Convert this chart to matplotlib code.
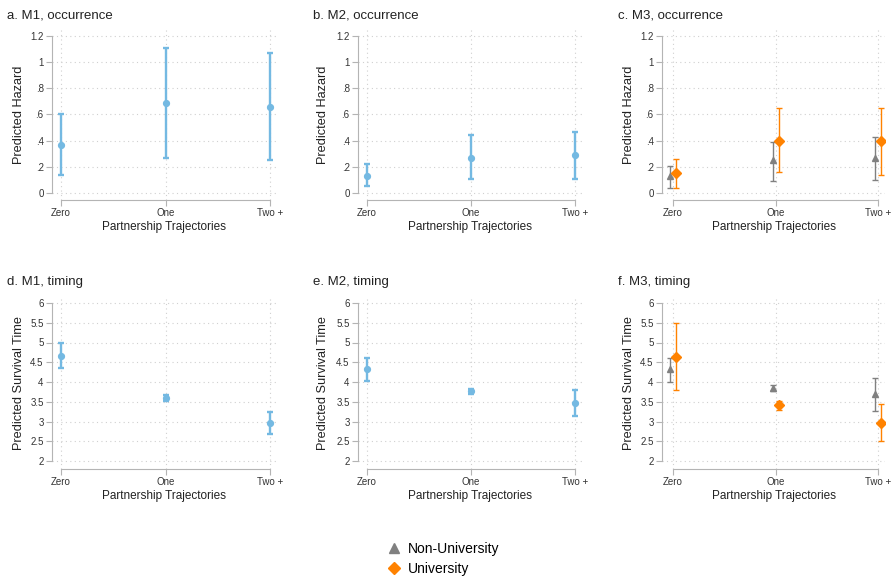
import matplotlib
matplotlib.use("Agg")
import matplotlib.pyplot as plt
from matplotlib.lines import Line2D

plt.rcParams['font.family'] = ['Liberation Sans', 'DejaVu Sans']

# categories
cats = ['Zero', 'One', 'Two +']

# occurrence (predicted hazard): point, lower, upper
m1_occ = [0.37, 0.69, 0.66]
m1_occ_lo = [0.14, 0.27, 0.25]
m1_occ_hi = [0.60, 1.11, 1.07]

m2_occ = [0.13, 0.27, 0.29]
m2_occ_lo = [0.05, 0.11, 0.11]
m2_occ_hi = [0.22, 0.44, 0.47]

m3_occ_nonuni = [0.13, 0.25, 0.27]
m3_occ_nonuni_lo = [0.04, 0.09, 0.10]
m3_occ_nonuni_hi = [0.21, 0.39, 0.43]

m3_occ_uni = [0.15, 0.40, 0.40]
m3_occ_uni_lo = [0.04, 0.16, 0.14]
m3_occ_uni_hi = [0.26, 0.65, 0.65]

# timing (predicted survival time)
m1_time = [4.67, 3.59, 2.96]
m1_time_lo = [4.35, 3.52, 2.68]
m1_time_hi = [5.00, 3.66, 3.24]

m2_time = [4.32, 3.76, 3.47]
m2_time_lo = [4.02, 3.69, 3.15]
m2_time_hi = [4.60, 3.83, 3.79]

m3_time_nonuni = [4.33, 3.85, 3.70]
m3_time_nonuni_lo = [3.99, 3.78, 3.26]
m3_time_nonuni_hi = [4.62, 3.93, 4.11]

m3_time_uni = [4.63, 3.41, 2.97]
m3_time_uni_lo = [3.81, 3.29, 2.50]
m3_time_uni_hi = [5.49, 3.53, 3.44]

occ_ticks = [0, 0.2, 0.4, 0.6, 0.8, 1.0, 1.2]
occ_ticklabels = ['0', '.2', '.4', '.6', '.8', '1', '1.2']
time_ticks = [2, 2.5, 3, 3.5, 4, 4.5, 5, 5.5, 6]
time_ticklabels = ['2', '2.5', '3', '3.5', '4', '4.5', '5', '5.5', '6']

BLUE = '#74B9E2'
GRAY = '#808080'
ORANGE = '#FF8200'
AXC = '#B4B4B4'
TXT = '#222222'

W, H = 892, 577
fig = plt.figure(figsize=(W / 100, H / 100), dpi=100)
fig.patch.set_facecolor('white')


def make_ax(left, right, top, bottom, xlim, ylim, ticks, ticklabels, ylab,
            title, title_x, title_base, ylab_right):
    # axes from pixel box
    ax = fig.add_axes([left / W, 1 - bottom / H, (right - left) / W, (bottom - top) / H])
    ax.set_xlim(xlim)
    ax.set_ylim(ylim)
    # dotted grid
    for t in ticks:
        ax.axhline(t, color='#D0D0D0', lw=0.8, ls=(0, (1, 3)), zorder=0)
    for i in range(len(cats)):
        ax.axvline(i, color='#D0D0D0', lw=0.8, ls=(0, (1, 3)), zorder=0)
    ax.spines['top'].set_visible(False)
    ax.spines['right'].set_visible(False)
    ax.spines['left'].set_color(AXC)
    ax.spines['bottom'].set_color(AXC)
    ax.spines['left'].set_bounds(ticks[0], ticks[-1])
    ax.spines['bottom'].set_bounds(0, len(cats) - 1)
    ax.set_yticks(ticks)
    ax.set_yticklabels(ticklabels)
    ax.set_xticks(range(len(cats)))
    ax.set_xticklabels(cats)
    ax.tick_params(axis='both', colors=AXC, labelcolor='#333333', labelsize=7,
                   length=4, width=0.8, pad=2)
    ax.set_ylabel(ylab, fontsize=9.2, color=TXT)
    ax.yaxis.set_label_coords((ylab_right - left) / (right - left), 0.5)
    ax.set_xlabel('Partnership Trajectories', fontsize=8.5, color=TXT)
    ax.xaxis.set_label_coords(0.5, -(221 - 200) / 170)
    fig.text(title_x / W, 1 - title_base / H, title, fontsize=9.5, color=TXT,
             va='baseline', ha='left')
    return ax


def blue_err(ax, vals, lo, hi):
    x = list(range(len(vals)))
    ax.errorbar(x, vals, yerr=[[v - l for v, l in zip(vals, lo)], [h - v for v, h in zip(vals, hi)]],
                fmt='o', color=BLUE, ms=4.2, elinewidth=1.7, capsize=2.2, capthick=1.7, zorder=3)


def group_err(ax, vals, lo, hi, shift, marker, color, ms):
    x = [i + shift for i in range(len(vals))]
    ax.errorbar(x, vals, yerr=[[v - l for v, l in zip(vals, lo)], [h - v for v, h in zip(vals, hi)]],
                fmt=marker, color=color, ms=ms, elinewidth=1.0, capsize=2.5, capthick=1.0, zorder=3)


cols = [(52, 277), (358, 582), (662, 885)]
title_xs = [7, 313, 618]
ylab_rights = [25, 329, 635]
occ_ylim = (-7 / 130.8, 1.2 + 6 / 130.8)
time_ylim = (2 - 8 / 39.5, 6 + 6 / 39.5)


def xlim_for(left, right):
    # Zero sits 9-11 px right of the axis line, Two + sits 7 px from right edge
    zero_px = left + (9 if left < 600 else 11)
    unit = (right - 7 - zero_px) / 2
    return (-(zero_px - left) / unit, 2 + 7 / unit)


occ_titles = ['a. M1, occurrence', 'b. M2, occurrence', 'c. M3, occurrence']
time_titles = ['d. M1, timing', 'e. M2, timing', 'f. M3, timing']

axes_top = []
axes_bot = []
for k in range(3):
    l, r = cols[k]
    axes_top.append(make_ax(l, r, 30, 200, xlim_for(l, r), occ_ylim, occ_ticks, occ_ticklabels,
                            'Predicted Hazard', occ_titles[k], title_xs[k], 18, ylab_rights[k]))
    ax2 = make_ax(l, r, 297, 469, xlim_for(l, r), time_ylim, time_ticks, time_ticklabels,
                  'Predicted Survival Time', time_titles[k], title_xs[k], 285, ylab_rights[k])
    ax2.xaxis.set_label_coords(0.5, -(221 - 200) / 172)
    axes_bot.append(ax2)

blue_err(axes_top[0], m1_occ, m1_occ_lo, m1_occ_hi)
blue_err(axes_top[1], m2_occ, m2_occ_lo, m2_occ_hi)
group_err(axes_top[2], m3_occ_nonuni, m3_occ_nonuni_lo, m3_occ_nonuni_hi, -0.025, '^', GRAY, 5)
group_err(axes_top[2], m3_occ_uni, m3_occ_uni_lo, m3_occ_uni_hi, 0.03, 'D', ORANGE, 4.8)

blue_err(axes_bot[0], m1_time, m1_time_lo, m1_time_hi)
blue_err(axes_bot[1], m2_time, m2_time_lo, m2_time_hi)
group_err(axes_bot[2], m3_time_nonuni, m3_time_nonuni_lo, m3_time_nonuni_hi, -0.025, '^', GRAY, 5)
group_err(axes_bot[2], m3_time_uni, m3_time_uni_lo, m3_time_uni_hi, 0.03, 'D', ORANGE, 4.8)

# legend at the bottom
handles = [Line2D([], [], marker='^', color=GRAY, ls='none', ms=7),
           Line2D([], [], marker='D', color=ORANGE, ls='none', ms=6)]
fig.legend(handles, ['Non-University', 'University'], loc='upper left',
           bbox_to_anchor=(380 / W, 1 - 535 / H), frameon=False, fontsize=10,
           handlelength=1.0, handletextpad=0.5, labelspacing=0.45, borderpad=0)

fig.savefig('out.png', dpi=100, facecolor='white')
